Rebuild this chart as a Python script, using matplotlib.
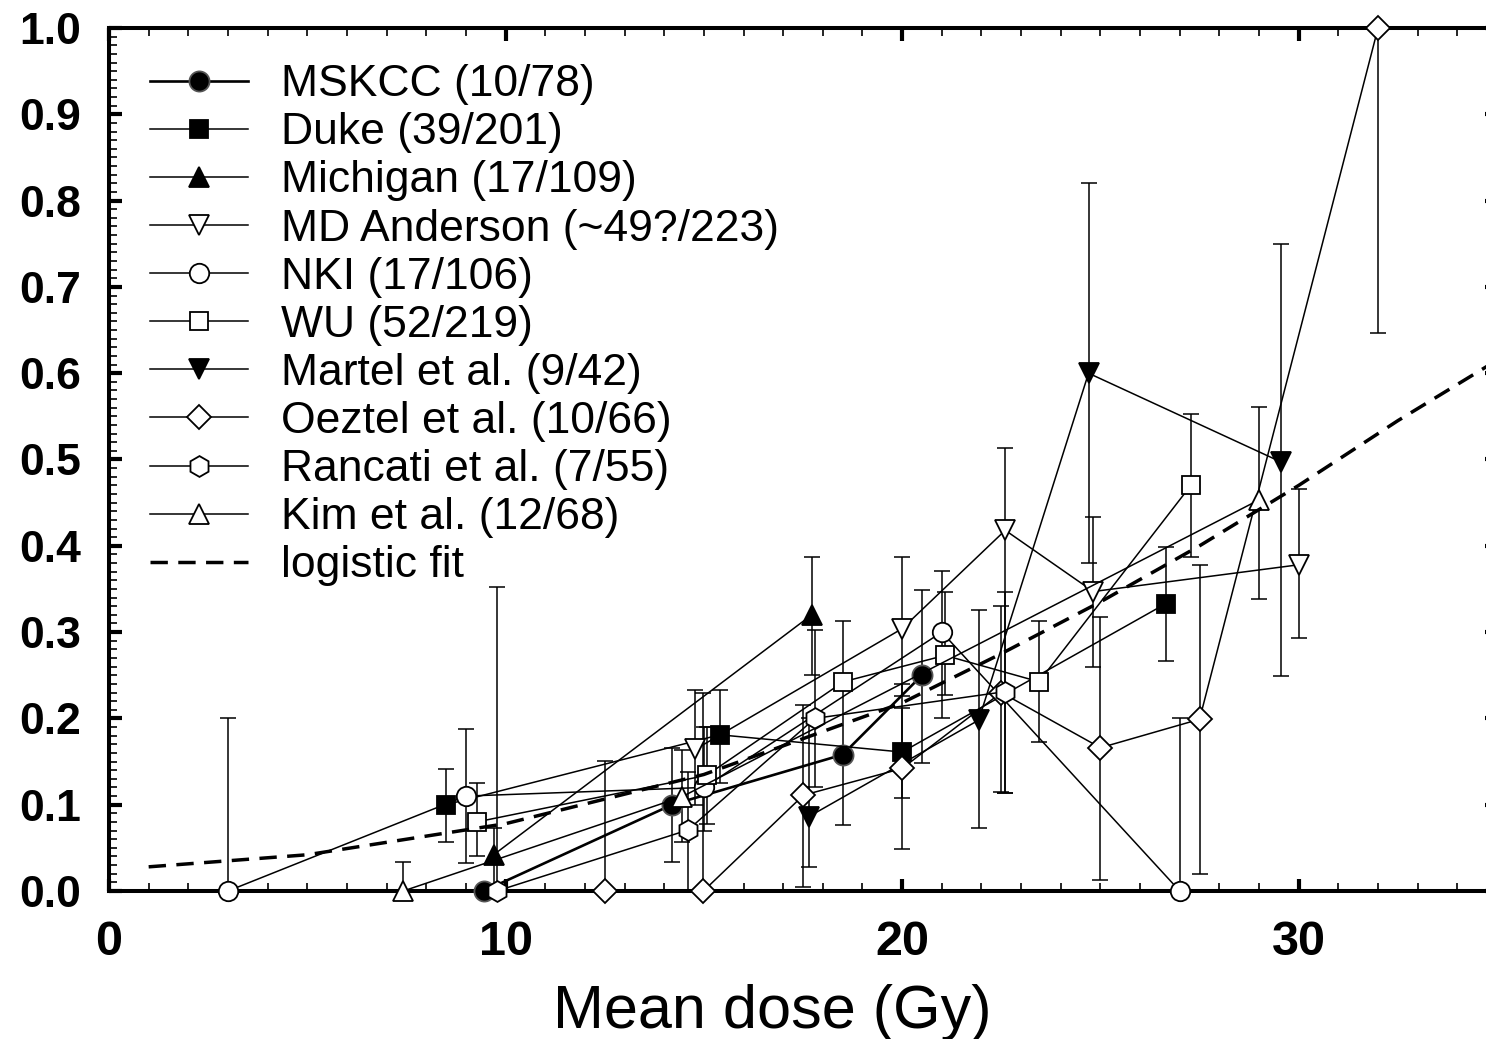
import numpy as np
import matplotlib
matplotlib.use("Agg")
import matplotlib.pyplot as plt
from matplotlib.ticker import MultipleLocator

plt.rcParams['font.family'] = ['Liberation Sans', 'DejaVu Sans']

# --- data: dose (Gy), rate, lower / upper error bar ---
mskcc_x = [9.45, 14.2, 18.5, 20.5]
mskcc_y = [0.0, 0.10, 0.158, 0.25]
mskcc_lo = [None, 0.034, None, 0.148]
mskcc_hi = [None, 0.166, None, 0.349]

duke_x = [8.5, 15.4, 20.0, 26.65]
duke_y = [0.10, 0.181, 0.161, 0.333]
duke_lo = [0.057, 0.125, 0.108, 0.267]
duke_hi = [0.141, 0.233, 0.212, 0.399]

mich_x = [9.7, 17.72]
mich_y = [0.042, 0.32]
mich_lo = [0.005, 0.25]
mich_hi = [0.073, 0.387]

mda_x = [14.78, 20.0, 22.6, 24.82, 30.0]
mda_y = [0.164, 0.304, 0.418, 0.347, 0.378]
mda_lo = [0.10, 0.226, 0.113, 0.26, 0.293]
mda_hi = [0.233, 0.387, 0.513, 0.433, 0.466]

nki_x = [3.0, 9.0, 15.0, 21.0, 27.0]
nki_y = [0.0, 0.11, 0.12, 0.30, 0.0]
nki_lo = [0.0, 0.033, 0.07, 0.20, 0.0]
nki_hi = [0.20, 0.188, 0.19, 0.371, 0.20]

wu_x = [9.27, 15.07, 18.52, 21.08, 23.45, 27.28]
wu_y = [0.08, 0.134, 0.2425, 0.273, 0.2425, 0.47]
wu_lo = [0.04, 0.078, 0.076, 0.227, 0.173, 0.387]
wu_hi = [0.125, 0.19, 0.313, 0.346, 0.313, 0.553]

martel_x = [17.64, 21.93, 24.7, 29.56]
martel_y = [0.086, 0.198, 0.60, 0.497]
martel_lo = [0.028, 0.073, 0.38, 0.249]
martel_hi = [0.20, 0.326, 0.82, 0.75]

oez_x = [12.5, 14.99, 17.51, 20.0, 22.5, 25.0, 27.5, 32.0]
oez_y = [0.0, 0.0, 0.111, 0.142, 0.23, 0.166, 0.199, 1.0]
oez_lo = [0.0, 0.0, 0.005, 0.049, 0.115, 0.013, 0.02, 0.647]
oez_hi = [0.151, 0.23, 0.215, 0.24, 0.33, 0.318, 0.378, 1.0]

ranc_x = [9.78, 14.6, 17.8, 22.6]
ranc_y = [0.0, 0.0707, 0.2, 0.231]
ranc_lo = [0.0, 0.0, 0.12, 0.113]
ranc_hi = [0.352, 0.138, 0.302, 0.347]

kim_x = [7.42, 14.44, 28.99]
kim_y = [0.0, 0.109, 0.453]
kim_lo = [0.0, 0.057, 0.338]
kim_hi = [0.034, 0.163, 0.561]

fit_x = [1, 5, 10, 15, 20, 22.5, 25, 27.5, 30, 32.5, 35]
fit_y = [0.028, 0.042, 0.078, 0.135, 0.218, 0.275, 0.335, 0.40, 0.47, 0.545, 0.615]

series = [
    ("MSKCC (10/78)", mskcc_x, mskcc_y, mskcc_lo, mskcc_hi, 'o', 'black', 14.5, 1.9),
    ("Duke (39/201)", duke_x, duke_y, duke_lo, duke_hi, 's', 'black', 13, 1.1),
    ("Michigan (17/109)", mich_x, mich_y, mich_lo, mich_hi, '^', 'black', 14, 1.1),
    ("MD Anderson (~49?/223)", mda_x, mda_y, mda_lo, mda_hi, 'v', 'white', 14, 1.1),
    ("NKI (17/106)", nki_x, nki_y, nki_lo, nki_hi, 'o', 'white', 14, 1.1),
    ("WU (52/219)", wu_x, wu_y, wu_lo, wu_hi, 's', 'white', 13, 1.1),
    ("Martel et al. (9/42)", martel_x, martel_y, martel_lo, martel_hi, 'v', 'black', 14, 1.1),
    ("Oeztel et al. (10/66)", oez_x, oez_y, oez_lo, oez_hi, 'D', 'white', 12, 1.1),
    ("Rancati et al. (7/55)", ranc_x, ranc_y, ranc_lo, ranc_hi, 'h', 'white', 15, 1.1),
    ("Kim et al. (12/68)", kim_x, kim_y, kim_lo, kim_hi, '^', 'white', 14, 1.1),
]

fig = plt.figure(figsize=(14.86, 10.39), dpi=100)
ax = fig.add_axes([109 / 1486, 148 / 1039, 1388 / 1486, 863 / 1039])

for name, xs, ys, lo, hi, mk, fc, ms, lw in series:
    ex, ey, el, eh = [], [], [], []
    for xv, yv, l, h in zip(xs, ys, lo, hi):
        if l is None:
            continue
        ex.append(xv)
        ey.append(yv)
        el.append(yv - l)
        eh.append(h - yv)
    if ex:
        ax.errorbar(ex, ey, yerr=[el, eh], fmt='none', ecolor='black',
                    elinewidth=1.1, capsize=6, capthick=1.1, zorder=2.6,
                    clip_on=False)
    mec = '#555555' if name.startswith("MSKCC") else 'black'
    ax.plot(xs, ys, color='black', lw=lw, marker=mk, ms=ms, mfc=fc,
            mec=mec, mew=1.3, label=name, zorder=3, clip_on=False)

ax.plot(fit_x, fit_y, color='black', lw=2.5, ls=(0, (5, 3)),
        label="logistic fit", zorder=3, clip_on=False)

ax.set_xlim(0, 35)
ax.set_ylim(0, 1.0)
ax.xaxis.set_major_locator(MultipleLocator(10))
ax.xaxis.set_minor_locator(MultipleLocator(1))
ax.yaxis.set_major_locator(MultipleLocator(0.1))
ax.yaxis.set_minor_locator(MultipleLocator(0.01))
ax.yaxis.set_major_formatter(plt.FormatStrFormatter('%.1f'))

for sp in ax.spines.values():
    sp.set_linewidth(2.9)

ax.tick_params(which='major', direction='in', length=9, width=3,
               top=True, right=True)
ax.tick_params(which='minor', direction='in', length=6, width=1.2,
               top=True, right=True)
ax.tick_params(axis='x', which='major', labelsize=35, pad=21)
ax.tick_params(axis='y', which='major', labelsize=32, pad=20)
for lab in ax.get_xticklabels() + ax.get_yticklabels():
    lab.set_fontweight('bold')

ax.set_xlabel("Mean dose (Gy)", fontsize=44)
ax.xaxis.set_label_coords(0.478, -0.159)
ax.xaxis.label.set_va('baseline')

leg = ax.legend(loc='upper left', bbox_to_anchor=(0.0295, 0.958),
                frameon=False, fontsize=32, numpoints=1, borderpad=0,
                borderaxespad=0, labelspacing=0.16, handlelength=2.21,
                handletextpad=0.74)

fig.savefig('out.png', dpi=100)
